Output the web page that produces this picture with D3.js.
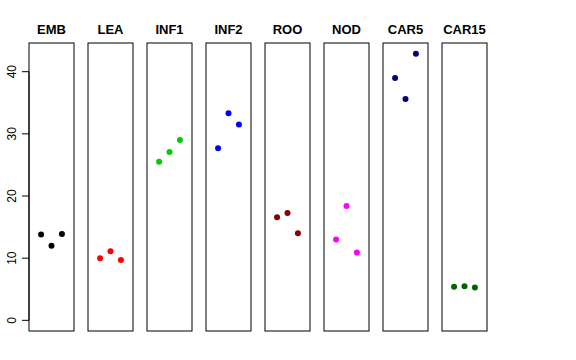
<!DOCTYPE html>
<html>
<head>
<meta charset="utf-8">
<script src="https://cdn.jsdelivr.net/npm/d3@7"></script>
<style>
body { margin: 0; background: #fff; }
text { font-family: "Liberation Sans", Arial, sans-serif; }
</style>
</head>
<body>
<div id="container"></div>
<script>
var groups = ["EMB", "LEA", "INF1", "INF2", "ROO", "NOD", "CAR5", "CAR15"];
var colors = ["#000000", "#ff0000", "#00cd00", "#0000ff", "#8b0000", "#ff00ff", "#000080", "#006400"];
var reps = [1, 2, 3];
var embVals = [13.8, 12.0, 13.9];
var leaVals = [10.0, 11.1, 9.7];
var inf1Vals = [25.5, 27.1, 29.0];
var inf2Vals = [27.7, 33.3, 31.5];
var rooVals = [16.6, 17.25, 14.0];
var nodVals = [13.0, 18.4, 10.9];
var car5Vals = [39.0, 35.6, 42.9];
var car15Vals = [5.4, 5.5, 5.3];
var yTicks = [0, 10, 20, 30, 40];

var allVals = [embVals, leaVals, inf1Vals, inf2Vals, rooVals, nodVals, car5Vals, car15Vals];

var size = { width: 576, height: 360 };
var svg = d3.select("#container").append("svg")
    .attr("width", size.width).attr("height", size.height);

// R style: ylim = c(0, max), extended by 4%
var yMax = d3.max(allVals, function (v) { return d3.max(v); });
var ext = yMax * 0.04;
var y = d3.scaleLinear().domain([-ext, yMax + ext]).range([331, 43]);

var panelW = 45, panelStep = 59, left0 = 29;
var x = d3.scaleLinear().domain([-0.16, 4.16]).range([0, panelW]);

// y axis on first panel
var axis = svg.append("g").attr("transform", "translate(" + left0 + ",0)");
axis.append("line")
    .attr("x1", 0).attr("x2", 0)
    .attr("y1", y(yTicks[0])).attr("y2", y(yTicks[yTicks.length - 1]))
    .attr("stroke", "#000");
axis.selectAll("line.tick").data(yTicks).enter().append("line")
    .attr("class", "tick")
    .attr("x1", -7).attr("x2", 0)
    .attr("y1", function (d) { return y(d); })
    .attr("y2", function (d) { return y(d); })
    .attr("stroke", "#000");
axis.selectAll("text").data(yTicks).enter().append("text")
    .attr("transform", function (d) { return "translate(-13," + y(d) + ") rotate(-90)"; })
    .attr("text-anchor", "middle")
    .style("font-size", "12px")
    .text(function (d) { return d; });

var panels = svg.selectAll("g.panel").data(groups).enter().append("g")
    .attr("class", "panel")
    .attr("transform", function (d, i) { return "translate(" + (left0 + i * panelStep) + ",0)"; });

panels.append("rect")
    .attr("x", 0).attr("y", y.range()[1])
    .attr("width", panelW).attr("height", y.range()[0] - y.range()[1])
    .attr("fill", "none").attr("stroke", "#000");

panels.append("text")
    .attr("x", panelW / 2).attr("y", 34)
    .attr("text-anchor", "middle")
    .style("font-size", "13px").style("font-weight", "bold")
    .text(function (d) { return d; });

panels.each(function (g, i) {
    d3.select(this).selectAll("circle").data(allVals[i]).enter().append("circle")
        .attr("cx", function (d, j) { return x(reps[j]); })
        .attr("cy", function (d) { return y(d); })
        .attr("r", 3)
        .attr("fill", colors[i]);
});
</script>
</body>
</html>
